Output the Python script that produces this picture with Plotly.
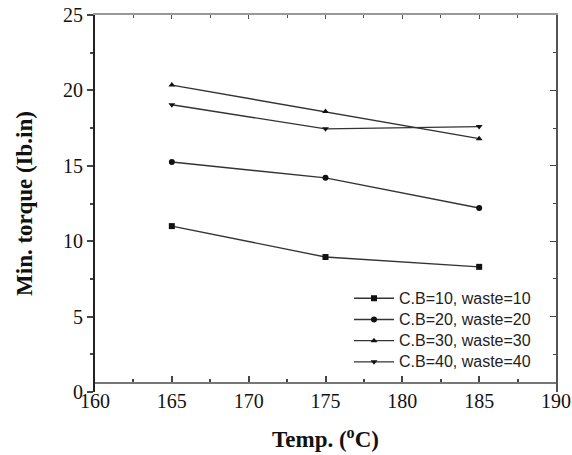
import plotly.graph_objects as go

temps = [165, 175, 185]
cb10 = [11.0, 8.95, 8.3]
cb20 = [15.25, 14.2, 12.2]
cb30 = [20.35, 18.6, 16.8]
cb40 = [19.05, 17.45, 17.6]
names = ["C.B=10, waste=10", "C.B=20, waste=20", "C.B=30, waste=30", "C.B=40, waste=40"]
series = [cb10, cb20, cb30, cb40]
symbols = ["square", "circle", "triangle-up", "triangle-down"]
x_ticks = [160, 165, 170, 175, 180, 185, 190]
y_ticks = [0, 5, 10, 15, 20, 25]

fig = go.Figure()
for name, vals, sym in zip(names, series, symbols):
    fig.add_trace(go.Scatter(
        x=temps, y=vals, mode="lines+markers",
        name='<span style="font-size:16px">' + name + '</span>',
        line=dict(color="#333333", width=1.4),
        marker=dict(symbol=sym, size=6, color="#111111"),
    ))

# helper trace for top/right frame axes
fig.add_trace(go.Scatter(x=[None], y=[None], xaxis="x2", yaxis="y2",
                         showlegend=False, hoverinfo="skip"))

serif = "Liberation Serif"
fig.update_layout(
    width=572, height=455,
    margin=dict(l=95, r=16, t=15, b=63, autoexpand=False),
    paper_bgcolor="white", plot_bgcolor="white",
    showlegend=True,
    legend=dict(x=0.551, y=0.29, xanchor="left", yanchor="top",
                bgcolor="rgba(0,0,0,0)", borderwidth=0,
                font=dict(family="Liberation Sans", size=14, color="#222"),
                itemwidth=40, tracegroupgap=0),
    xaxis=dict(range=[160, 190], tickvals=x_ticks, ticks="inside", ticklen=6,
               tickwidth=1.5, tickcolor="#444", automargin=False,
               ticklabeloverflow="allow",
               minor=dict(dtick=2.5, ticks="inside", ticklen=3, tickcolor="#444"),
               showgrid=False, zeroline=False, showline=True, linecolor="#777",
               linewidth=2, anchor="free", position=0.023,
               tickfont=dict(family=serif, size=20, color="#111"),
               title=dict(text="<b>Temp. (<sup>o</sup>C)</b>", standoff=19,
                          font=dict(family=serif, size=23, color="#111"))),
    yaxis=dict(range=[0, 25], tickvals=y_ticks, ticks="outside", ticklen=6,
               tickwidth=1.5, tickcolor="#444", automargin=False,
               ticklabeloverflow="allow",
               minor=dict(dtick=2.5, ticks="outside", ticklen=3, tickcolor="#444"),
               showgrid=False, zeroline=False, showline=True, linecolor="#222",
               linewidth=2,
               tickfont=dict(family=serif, size=20, color="#111"),
               title=dict(text="<b>Min. torque (Ib.in)</b>", standoff=24,
                          font=dict(family=serif, size=23, color="#111"))),
    xaxis2=dict(range=[160, 190], overlaying="x", side="top", anchor="y2",
                tickvals=x_ticks, showticklabels=False, ticks="inside", ticklen=4,
                tickcolor="#555", automargin=False,
                minor=dict(dtick=2.5, ticks="inside", ticklen=3, tickcolor="#555"),
                showgrid=False, zeroline=False, showline=True, linecolor="#999",
                linewidth=1.5),
    yaxis2=dict(range=[0, 25], overlaying="y", side="right", anchor="x2",
                tickvals=y_ticks, showticklabels=False, ticks="inside", ticklen=6,
                tickcolor="#444", automargin=False,
                minor=dict(dtick=2.5, ticks="inside", ticklen=3, tickcolor="#444"),
                showgrid=False, zeroline=False, showline=True, linecolor="#555",
                linewidth=1.5),
)

fig.write_html("out.html", config={"displayModeBar": False},
               post_script="document.body.style.margin='0';")
